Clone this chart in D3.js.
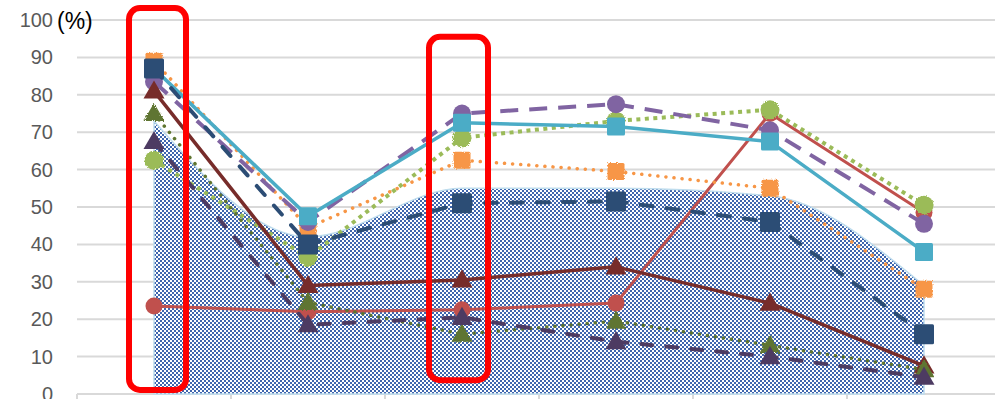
<!DOCTYPE html>
<html>
<head>
<meta charset="utf-8">
<script src="https://cdn.jsdelivr.net/npm/d3@7"></script>
<style>
  html, body { margin: 0; padding: 0; background: #fff; }
  svg { display: block; }
</style>
</head>
<body>
<svg id="chart" width="995" height="399"></svg>
<script>
// Categories along the x axis
const categories = ["1", "2", "3", "4", "5", "6"];
// Y axis tick values (%)
const yTicks = [0, 10, 20, 30, 40, 50, 60, 70, 80, 90, 100];

// Filled (checkered) background series
const areaValues = [73, 42, 55, 55, 53, 29];

// Line series values (%)
const navyValues       = [87, 40, 51, 51.5, 46, 16];
const lightBlueValues  = [87, 47.5, 72.5, 71.5, 67.5, 38];
const orangeValues     = [89, 44.5, 62.5, 59.5, 55, 28];
const purpleValues     = [83.5, 46, 75, 77.5, 70.5, 45.5];
const lightGreenValues = [62.5, 36.5, 68.5, 73, 76, 50.5];
const redValues        = [23.5, 22, 22.5, 24.3, 75, 48.5];
const darkRedValues    = [81, 29, 30.5, 34, 24.3, 7.5];
const darkGreenValues  = [75, 24.5, 16, 19.5, 13, 6.5];
const darkPurpleValues = [67.5, 18.5, 20.5, 14, 10, 4.5];

// Highlighted categories (red rounded frames)
const highlights = [
  { cat: "1", top: 103.2, bottom: 1.1, left: -25, right: 32 },
  { cat: "3", top: 95.5, bottom: 3.7, left: -33, right: 26 }
];

// Drawing order: bottom to top
const series = [
  { values: redValues,        color: "#C0504D", width: 3,   dash: null,    cap: "round", marker: "circle",   size: 17 },
  { values: orangeValues,     color: "#F79646", width: 3.5, dash: "0.1 8", cap: "round", marker: "square",   size: 17, rough: true },
  { values: lightGreenValues, color: "#9BBB59", width: 4,   dash: "4 4.5", cap: "butt",  marker: "circle",   size: 19, rough: true },
  { values: purpleValues,     color: "#8064A2", width: 4,   dash: "18 11", cap: "butt",  marker: "circle",   size: 18 },
  { values: lightBlueValues,  color: "#4BACC6", width: 3.5, dash: null,    cap: "round", marker: "square",   size: 18 },
  { values: navyValues,       color: "#2C4D75", width: 4,   dash: "12 14", cap: "round", marker: "square",   size: 20 },
  { values: darkRedValues,    color: "#772C2A", width: 3.5, dash: null,    cap: "round", marker: "triangle", size: 21 },
  { values: darkGreenValues,  color: "#5F7530", width: 3.5, dash: "0.1 8", cap: "round", marker: "triangle", size: 21, rough: true },
  { values: darkPurpleValues, color: "#4D3B62", width: 4,   dash: "11 14", cap: "round", marker: "triangle", size: 21 }
];

const svg = d3.select("#chart");
const W = 995, H = 399;

const x = d3.scaleBand().domain(categories).range([77, 1001]).padding(0);
const cx = c => x(c) + x.bandwidth() / 2;
const y = d3.scaleLinear().domain([0, 100]).range([394, 20]);

const defs = svg.append("defs");
// Checkered fill
const pat = defs.append("pattern")
  .attr("id", "checker").attr("patternUnits", "userSpaceOnUse")
  .attr("width", 4).attr("height", 4);
pat.append("rect").attr("width", 4).attr("height", 4).attr("fill", "#ffffff");
pat.append("rect").attr("width", 2).attr("height", 2).attr("fill", "#3F66AE");
pat.append("rect").attr("x", 2).attr("y", 2).attr("width", 2).attr("height", 2).attr("fill", "#3F66AE");

// Ragged edge for textured markers
const rough = defs.append("filter").attr("id", "rough")
  .attr("x", "-30%").attr("y", "-30%").attr("width", "160%").attr("height", "160%");
rough.append("feTurbulence").attr("type", "fractalNoise").attr("baseFrequency", 0.9)
  .attr("numOctaves", 1).attr("seed", 3).attr("result", "noise");
rough.append("feDisplacementMap").attr("in", "SourceGraphic").attr("in2", "noise")
  .attr("scale", 4).attr("xChannelSelector", "R").attr("yChannelSelector", "G");

// Gridlines
svg.append("g").selectAll("line").data(yTicks).join("line")
  .attr("x1", 77).attr("x2", W)
  .attr("y1", d => y(d)).attr("y2", d => y(d))
  .attr("stroke", "#D9D9D9").attr("stroke-width", 2);

// Category tick marks on the baseline
const bounds = categories.map(c => x(c)).concat([x(categories[categories.length - 1]) + x.bandwidth()]);
svg.append("g").selectAll("line").data(bounds).join("line")
  .attr("x1", d => d).attr("x2", d => d)
  .attr("y1", y(0)).attr("y2", y(0) + 6)
  .attr("stroke", "#D9D9D9").attr("stroke-width", 2);

// Y axis labels
svg.append("g").selectAll("text").data(yTicks).join("text")
  .attr("x", 53).attr("y", d => y(d))
  .attr("text-anchor", "end").attr("dominant-baseline", "central")
  .attr("font-family", "Liberation Sans, Arial, sans-serif")
  .attr("font-size", 20).attr("fill", "#595959")
  .text(d => d);

svg.append("text")
  .attr("x", 57).attr("y", y(100) + 1)
  .attr("dominant-baseline", "central")
  .attr("font-family", "Liberation Sans, Arial, sans-serif")
  .attr("font-size", 23).attr("fill", "#000")
  .text("(%)");

// Checkered area
const area = d3.area()
  .x((d, i) => cx(categories[i]))
  .y0(y(0)).y1(d => y(d))
  .curve(d3.curveMonotoneX);
svg.append("path").datum(areaValues)
  .attr("d", area)
  .attr("fill", "url(#checker)")
  .attr("stroke", "#BFDDEE").attr("stroke-width", 1.5);

// Lines and markers
const line = d3.line()
  .x((d, i) => cx(categories[i]))
  .y(d => y(d));

const tri = d3.symbol().type(d3.symbolTriangle);

series.forEach(s => {
  const g = svg.append("g");
  g.append("path").datum(s.values)
    .attr("d", line)
    .attr("fill", "none")
    .attr("stroke", s.color)
    .attr("stroke-width", s.width)
    .attr("stroke-linecap", s.cap)
    .attr("stroke-linejoin", "round")
    .attr("stroke-dasharray", s.dash);

  const m = g.append("g").attr("fill", s.color);
  if (s.rough) m.attr("filter", "url(#rough)");
  const pts = s.values.map((v, i) => ({ px: cx(categories[i]), py: y(v) }));
  if (s.marker === "circle") {
    m.selectAll("circle").data(pts).join("circle")
      .attr("cx", d => d.px).attr("cy", d => d.py).attr("r", s.size / 2);
  } else if (s.marker === "square") {
    m.selectAll("rect").data(pts).join("rect")
      .attr("x", d => d.px - s.size / 2).attr("y", d => d.py - s.size / 2)
      .attr("width", s.size).attr("height", s.size).attr("rx", 1.5);
  } else {
    const triArea = s.size * s.size * Math.sqrt(3) / 4;
    m.selectAll("path").data(pts).join("path")
      .attr("transform", d => `translate(${d.px},${d.py + 1.5})`)
      .attr("d", tri.size(triArea));
  }
});

// Red frames highlighting categories
svg.append("g").selectAll("rect").data(highlights).join("rect")
  .attr("x", d => cx(d.cat) + d.left)
  .attr("y", d => y(d.top))
  .attr("width", d => d.right - d.left)
  .attr("height", d => y(d.bottom) - y(d.top))
  .attr("rx", 11)
  .attr("fill", "none")
  .attr("stroke", "#FF0000")
  .attr("stroke-width", 6);
</script>
</body>
</html>
